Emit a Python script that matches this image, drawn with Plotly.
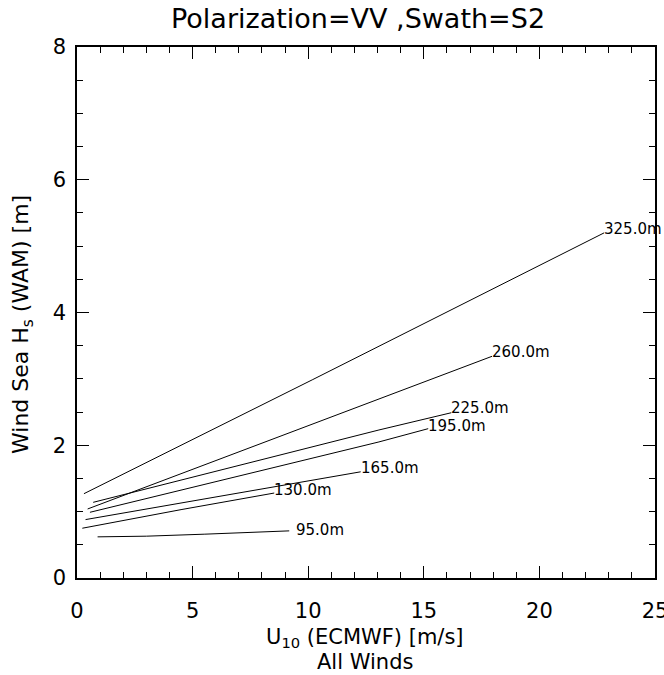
import plotly.graph_objects as go

# Data
labels = ["325.0m", "260.0m", "225.0m", "195.0m", "165.0m", "130.0m", "95.0m"]
x_325 = [0.3, 10.2, 22.8]
y_325 = [1.27, 2.99, 5.20]
x_260 = [0.46, 13.06, 17.95]
y_260 = [1.04, 2.70, 3.34]
x_225 = [0.7, 13.06, 16.19]
y_225 = [1.14, 2.23, 2.49]
x_195 = [0.56, 13.06, 15.19]
y_195 = [0.99, 2.05, 2.25]
x_165 = [0.37, 6.0, 12.27]
y_165 = [0.88, 1.22, 1.60]
x_130 = [0.23, 4.5, 8.53]
y_130 = [0.75, 1.03, 1.28]
x_95 = [0.89, 3.0, 5.5, 8.0, 9.18]
y_95 = [0.62, 0.63, 0.66, 0.69, 0.71]

series = [(x_325, y_325), (x_260, y_260), (x_225, y_225), (x_195, y_195),
          (x_165, y_165), (x_130, y_130), (x_95, y_95)]
# label offsets (pixels): style only
label_xshift = [0, 0, 0, 0, 0, 0, 7]
label_yshift = [4, 4, 5, 3, 4, 3, 1]

FONT = "DejaVu Sans"
fig = go.Figure()
for (xs, ys), lab, dx, dy in zip(series, labels, label_xshift, label_yshift):
    fig.add_trace(go.Scatter(x=xs, y=ys, mode="lines",
                             line=dict(color="black", width=1), showlegend=False,
                             hoverinfo="skip"))
    fig.add_annotation(x=xs[-1], y=ys[-1], text=lab, showarrow=False,
                       xanchor="left", yanchor="middle", yshift=dy, xshift=dx - 2,
                       font=dict(family=FONT, size=15, color="black"))

axis_common = dict(showline=True, linecolor="black", linewidth=1.5, mirror="allticks",
                   ticks="inside", ticklen=12, tickwidth=1.2, tickcolor="black",
                   showgrid=False, zeroline=False, ticklabeloverflow="allow",
                   automargin=False,
                   tickfont=dict(family=FONT, size=21, color="black"))
fig.update_xaxes(range=[0, 25], tickvals=[0, 5, 10, 15, 20, 25], ticklabelstandoff=13,
                 minor=dict(ticks="inside", ticklen=6, dtick=1, tickcolor="black", tickwidth=1),
                 **axis_common)
fig.update_yaxes(range=[0, 8], tickvals=[0, 2, 4, 6, 8], ticklabelstandoff=5,
                 minor=dict(ticks="inside", ticklen=6, dtick=0.5, tickcolor="black", tickwidth=1),
                 **axis_common)

H = 531.0
def py(p):
    return (578 - p) / H

fig.add_annotation(text="U<sub>10</sub> (ECMWF) [m/s]", xref="paper", yref="paper",
                   x=(365 - 77) / 578, y=py(638), showarrow=False, xanchor="center",
                   yanchor="middle", font=dict(family=FONT, size=21, color="black"))
fig.add_annotation(text="All Winds", xref="paper", yref="paper",
                   x=(365 - 77) / 578, y=py(662), showarrow=False, xanchor="center",
                   yanchor="middle", font=dict(family=FONT, size=21, color="black"))
fig.add_annotation(text="Wind Sea H<sub>s</sub> (WAM) [m]", xref="paper", yref="paper",
                   x=(22 - 77) / 578, y=py(325), showarrow=False, textangle=-90,
                   xanchor="center", yanchor="middle",
                   font=dict(family=FONT, size=22, color="black"))
fig.add_annotation(text="Polarization=VV ,Swath=S2", xref="paper", yref="paper",
                   x=(358 - 77) / 578, y=py(19), showarrow=False, xanchor="center",
                   yanchor="middle", font=dict(family=FONT, size=27, color="black"))

fig.update_layout(width=664, height=675, plot_bgcolor="white", paper_bgcolor="white",
                  margin=dict(l=77, r=9, t=47, b=97), showlegend=False)
fig.write_html("out.html")
